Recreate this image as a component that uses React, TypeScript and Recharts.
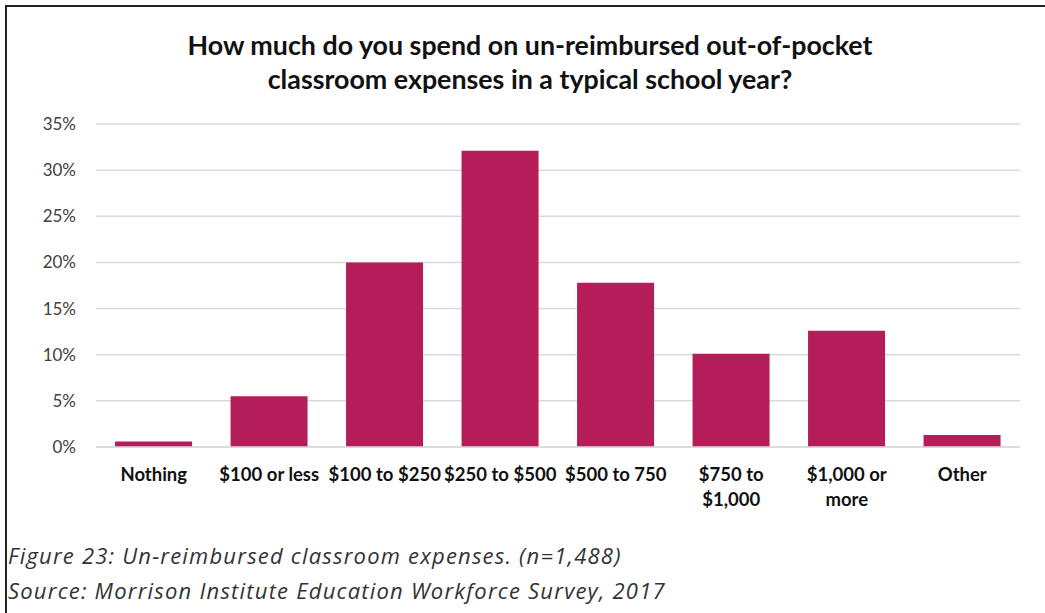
import { BarChart, Bar, XAxis, YAxis, CartesianGrid } from 'recharts';

const categories = [
  'Nothing',
  '$100 or less',
  '$100 to $250',
  '$250 to $500',
  '$500 to 750',
  '$750 to\n$1,000',
  '$1,000 or\nmore',
  'Other',
];
const shares = [0.6, 5.5, 20.0, 32.1, 17.8, 10.1, 12.6, 1.3];
const yTicks = [0, 5, 10, 15, 20, 25, 30, 35];

const data = categories.map((name, i) => ({ name, value: shares[i] }));

const BAR = '#B51D58';
const FONT = 'Lato, "Open Sans", sans-serif';

function CategoryTick(props: any) {
  const { x, y, payload } = props;
  const lines = String(payload.value).split('\n');
  return (
    <text x={x} y={y} textAnchor="middle" fontFamily={FONT} fontWeight={700} fontSize={18.5} fill="#111">
      {lines.map((line, i) => (
        <tspan key={i} x={x} dy={i === 0 ? 26 : 25}>
          {line}
        </tspan>
      ))}
    </text>
  );
}

export default function App() {
  return (
    <div style={{ position: 'absolute', left: 0, top: 0, width: 1045, height: 613, background: '#fff', overflow: 'hidden' }}>
      <div style={{ position: 'absolute', left: 5, top: 5, width: 1100, height: 700, borderTop: '2.5px solid #222', borderLeft: '2.5px solid #222' }} />
      <div
        style={{
          position: 'absolute',
          left: 0,
          top: 28,
          width: 1060,
          textAlign: 'center',
          fontFamily: FONT,
          fontWeight: 700,
          fontSize: 26.8,
          lineHeight: '34px',
          color: '#111',
        }}
      >
        How much do you spend on un-reimbursed out-of-pocket
        <br />
        classroom expenses in a typical school year?
      </div>
      <div style={{ position: 'absolute', left: 0, top: 0 }}>
        <BarChart width={1045} height={530} data={data} margin={{ top: 124, right: 25, bottom: 13, left: 36 }} barCategoryGap="16.5%">
          <CartesianGrid vertical={false} stroke="#d9d9d9" strokeWidth={1.5} />
          <XAxis dataKey="name" interval={0} tick={<CategoryTick />} tickLine={false} axisLine={{ stroke: '#d9d9d9', strokeWidth: 1.5 }} height={70} />
          <YAxis
            domain={[0, 35]}
            ticks={yTicks}
            tickFormatter={(v: number) => `${v}%`}
            tickLine={false}
            axisLine={false}
            tickSize={0}
            tickMargin={20}
            width={60}
            tick={{ fontFamily: FONT, fontSize: 17, fill: '#404040' }}
          />
          <Bar dataKey="value" fill={BAR} isAnimationActive={false} />
        </BarChart>
      </div>
      <div
        style={{
          position: 'absolute',
          left: 8,
          top: 538,
          fontFamily: '"Open Sans", sans-serif',
          fontStyle: 'italic',
          fontSize: 22,
          letterSpacing: 1.2,
          lineHeight: '35px',
          color: '#333',
          whiteSpace: 'nowrap',
        }}
      >
        Figure 23: Un-reimbursed classroom expenses. (n=1,488)
        <br />
        Source: Morrison Institute Education Workforce Survey, 2017
      </div>
    </div>
  );
}
